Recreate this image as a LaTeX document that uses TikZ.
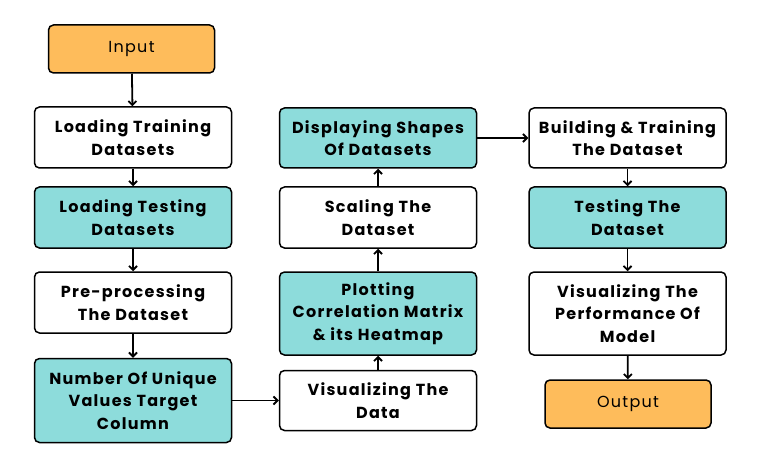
\documentclass[tikz,border=0pt]{standalone}
\usepackage{fontspec}
\setmainfont{Poppins}[LetterSpace=8]
\usepackage{xcolor}
\usepackage{tikz}
\usetikzlibrary{arrows.meta}
\usetikzlibrary{positioning}
\definecolor{ioorange}{HTML}{FEBC5B}
\definecolor{stepteal}{HTML}{8DDCDB}
\tikzstyle{plainnode}=[black, draw=black, line width=1.5pt, shape=rectangle, rounded corners=5pt, fill=white, minimum width=197pt, minimum height=61pt, inner sep=2pt, align=center, font=\fontsize{16}{22.5}\selectfont\bfseries]
\tikzstyle{tealnode}=[plainnode, fill=stepteal]
\tikzstyle{ionode}=[black, draw=black, line width=1.5pt, shape=rectangle, rounded corners=5pt, fill=ioorange, minimum width=166pt, minimum height=48pt, inner sep=2pt, align=center, font=\fontsize{16}{22.5}\selectfont]

\begin{document}
\begin{tikzpicture}[x=1pt, y=1pt]
\useasboundingbox (0,0) rectangle (758,-476);
\node [ionode] (input) at (131.5,-49) {Input};
\node [plainnode] (loadtrain) at (133,-137.5) {Loading Training\\Datasets};
\node [tealnode] (loadtest) at (133,-217.5) {Loading Testing\\Datasets};
\node [plainnode] (preproc) at (133,-302.5) {Pre-processing\\The Dataset};
\node [tealnode, minimum height=84pt] (nunique) at (133,-400.5) {Number Of Unique\\Values Target\\Column};

\node [plainnode, minimum height=60pt] (visdata) at (378,-400.5) {Visualizing The\\Data};
\node [tealnode, minimum height=83pt] (corrmat) at (378,-313.5) {Plotting\\Correlation Matrix\\\& its Heatmap};
\node [plainnode] (scaling) at (378,-217.5) {Scaling The\\Dataset};
\node [tealnode, minimum height=60pt] (shapes) at (378,-138) {Displaying Shapes\\Of Datasets};

\node [plainnode, minimum height=60pt] (building) at (627.5,-138) {Building \& Training\\The Dataset};
\node [tealnode] (testing) at (627.5,-217.5) {Testing The\\Dataset};
\node [plainnode, minimum height=83pt] (perf) at (627.5,-313.5) {Visualizing The\\Performance Of\\Model};
\node [ionode] (output) at (628,-404) {Output};

\draw[-{Straight Barb[length=4pt, width=8pt]}, line width=1.8pt, color=black] (input) -- (loadtrain);
\draw[-{Straight Barb[length=4pt, width=8pt]}, line width=1.8pt, color=black] (loadtrain) -- (loadtest);
\draw[-{Straight Barb[length=4pt, width=8pt]}, line width=1.8pt, color=black] (loadtest) -- (preproc);
\draw[-{Straight Barb[length=4pt, width=8pt]}, line width=1.8pt, color=black] (preproc) -- (nunique);
\draw[-{Straight Barb[length=4pt, width=8pt]}, line width=1.8pt, color=black] (nunique) -- (visdata);
\draw[-{Straight Barb[length=4pt, width=8pt]}, line width=1.8pt, color=black] (visdata) -- (corrmat);
\draw[-{Straight Barb[length=4pt, width=8pt]}, line width=1.8pt, color=black] (corrmat) -- (scaling);
\draw[-{Straight Barb[length=4pt, width=8pt]}, line width=1.8pt, color=black] (scaling) -- (shapes);
\draw[-{Straight Barb[length=4pt, width=8pt]}, line width=1.8pt, color=black] (shapes) -- (building);
\draw[-{Straight Barb[length=4pt, width=8pt]}, line width=1.8pt, color=black] (building) -- (testing);
\draw[-{Straight Barb[length=4pt, width=8pt]}, line width=1.8pt, color=black] (testing) -- (perf);
\draw[-{Straight Barb[length=4pt, width=8pt]}, line width=1.8pt, color=black] (perf) -- (output);
\end{tikzpicture}
\end{document}
